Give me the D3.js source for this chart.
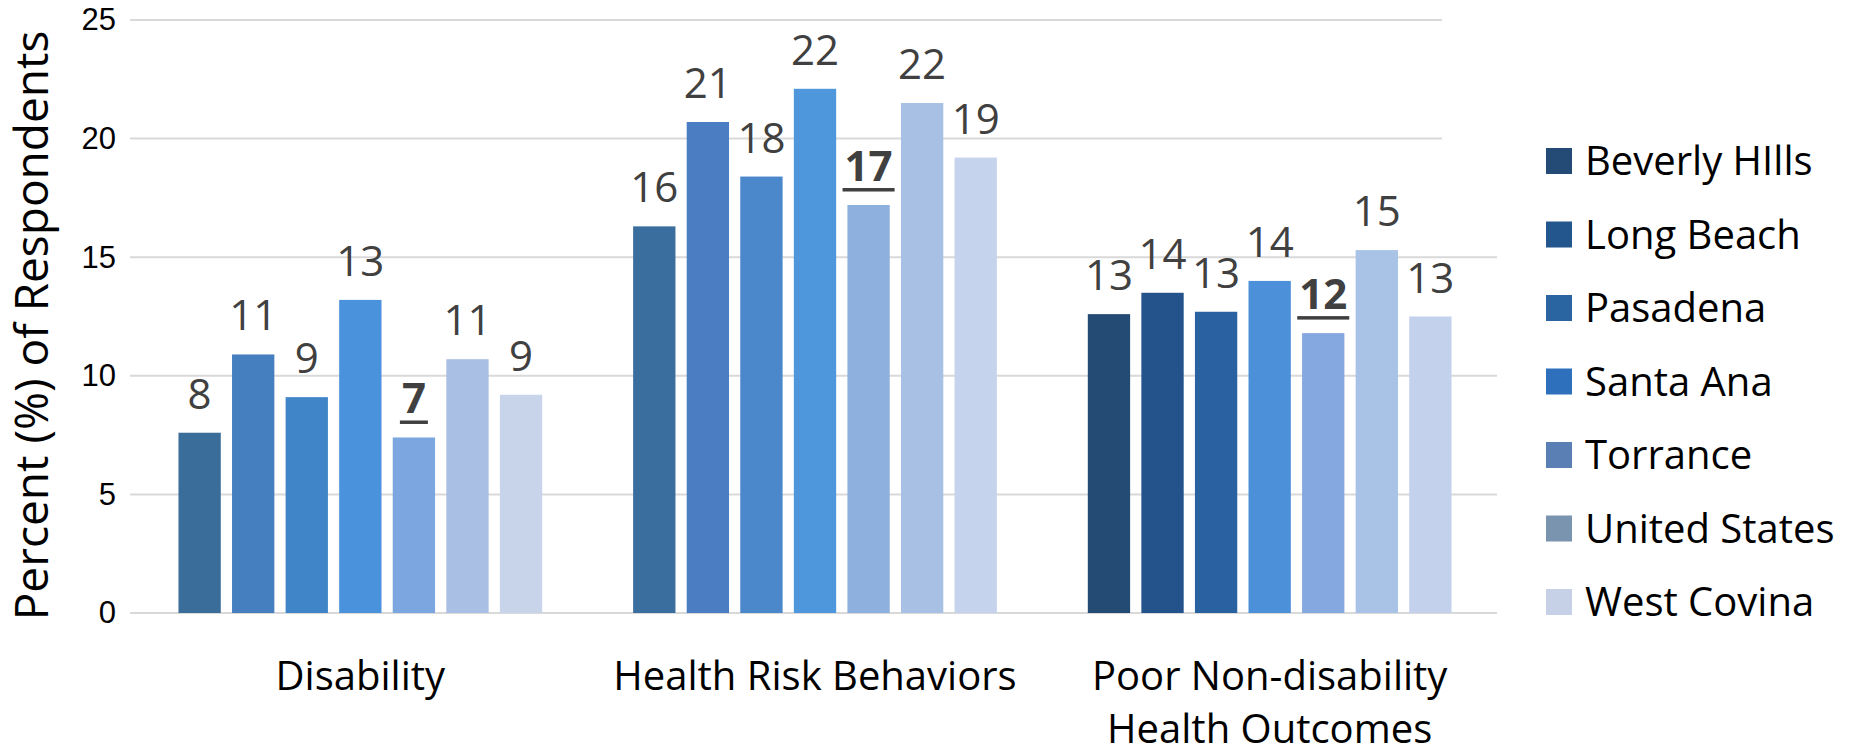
<!DOCTYPE html>
<html><head><meta charset="utf-8">
<script src="https://cdn.jsdelivr.net/npm/d3@7"></script>
<style>
body{margin:0;background:#fff;}
svg{display:block;font-family:"Open Sans",sans-serif;}
</style>
</head><body>
<svg id="chart" width="1860" height="754"></svg>
<script>
// ---- data ----
const categories = ["Disability", "Health Risk Behaviors", "Poor Non-disability Health Outcomes"];
const categoryLines = [["Disability"], ["Health Risk Behaviors"], ["Poor Non-disability", "Health Outcomes"]];
const series = ["Beverly HIlls", "Long Beach", "Pasadena", "Santa Ana", "Torrance", "United States", "West Covina"];
const beverlyHills = [7.6, 16.3, 12.6];
const longBeach    = [10.9, 20.7, 13.5];
const pasadena     = [9.1, 18.4, 12.7];
const santaAna     = [13.2, 22.1, 14.0];
const torrance     = [7.4, 17.2, 11.8];
const unitedStates = [10.7, 21.5, 15.3];
const westCovina   = [9.2, 19.2, 12.5];
const beverlyHillsLabels = ["8", "16", "13"];
const longBeachLabels    = ["11", "21", "14"];
const pasadenaLabels     = ["9", "18", "13"];
const santaAnaLabels     = ["13", "22", "14"];
const torranceLabels     = ["7", "17", "12"];
const unitedStatesLabels = ["11", "22", "15"];
const westCovinaLabels   = ["9", "19", "13"];
const yTicks = [0, 5, 10, 15, 20, 25];
const highlightSeries = "Torrance";

// ---- styles ----
const legendColors = ["#234b75", "#23568d", "#2a64a1", "#2f70bd", "#5a7fb4", "#7a93ae", "#c6d1e8"];
const groupColors = [
  ["#3b6d9b", "#467fc0", "#3f85c8", "#4a93dc", "#7ca6e0", "#a9bfe3", "#c8d4ea"],
  ["#3a6e9e", "#4a7dc2", "#4a88cb", "#4f97dc", "#8db0df", "#a8c0e4", "#c6d3ec"],
  ["#244b74", "#24538b", "#2a61a0", "#4b90d8", "#86a8e0", "#a8c3e6", "#c4d1ec"]
];

const values = [beverlyHills, longBeach, pasadena, santaAna, torrance, unitedStates, westCovina];
const labelTexts = [beverlyHillsLabels, longBeachLabels, pasadenaLabels, santaAnaLabels, torranceLabels, unitedStatesLabels, westCovinaLabels];

const svg = d3.select("#chart");
const plot = {left: 133, right: 1497, top: 20, bottom: 613};

const y = d3.scaleLinear().domain([0, 25]).range([plot.bottom, plot.top]);
const x0 = d3.scaleBand().domain(categories).range([plot.left, plot.right]).paddingInner(0.2).paddingOuter(0.1);
const x1 = d3.scaleBand().domain(series).range([0, x0.bandwidth()]).paddingInner(0.21);

// gridlines
svg.append("g").selectAll("line").data(yTicks).join("line")
  .attr("x1", plot.left - 3)
  .attr("x2", d => d >= 20 ? 1442 : plot.right)
  .attr("y1", d => y(d)).attr("y2", d => y(d))
  .attr("stroke", "#d9d9d9").attr("stroke-width", 2);

// y axis labels
const yAxis = d3.axisLeft(y).tickValues(yTicks).tickSize(0).tickPadding(17);
const ga = svg.append("g").attr("transform", `translate(${plot.left},0)`).call(yAxis);
ga.select(".domain").remove();
ga.selectAll("text").attr("font-size", 31).attr("fill", "#000").attr("font-family", '"Liberation Sans",sans-serif');

// y title
svg.append("text")
  .attr("transform", `translate(48,${(26 + 625) / 2}) rotate(-90)`)
  .attr("text-anchor", "middle")
  .attr("font-size", 46)
  .attr("fill", "#000")
  .text("Percent (%) of Respondents");

// bars
const flat = [];
categories.forEach((c, ci) => series.forEach((s, si) => flat.push({c, ci, s, si, v: values[si][ci], t: labelTexts[si][ci]})));

svg.append("g").selectAll("rect").data(flat).join("rect")
  .attr("x", d => x0(d.c) + x1(d.s))
  .attr("y", d => y(d.v))
  .attr("width", x1.bandwidth())
  .attr("height", d => y(0) - y(d.v))
  .attr("fill", d => groupColors[d.ci][d.si]);

// data labels
const lg = svg.append("g");
flat.forEach(d => {
  const cx = x0(d.c) + x1(d.s) + x1.bandwidth() / 2;
  const by = y(d.v) - 24;
  const bold = d.s === highlightSeries;
  const t = lg.append("text")
    .attr("x", cx).attr("y", by)
    .attr("text-anchor", "middle")
    .attr("font-size", 42)
    .attr("font-weight", bold ? 700 : 400)
    .attr("fill", "#404040")
    .text(d.t);
  if (bold) {
    const w = t.node().getComputedTextLength();
    lg.append("rect")
      .attr("x", cx - w / 2 - 2).attr("y", by + 7)
      .attr("width", w + 4).attr("height", 3.5)
      .attr("fill", "#404040");
  }
});

// category labels
categoryLines.forEach((lines, ci) => {
  const cx = x0(categories[ci]) + x0.bandwidth() / 2;
  lines.forEach((ln, li) => {
    svg.append("text")
      .attr("x", cx).attr("y", 690 + li * 53)
      .attr("text-anchor", "middle")
      .attr("font-size", 40)
      .attr("fill", "#000")
      .text(ln);
  });
});

// legend
const leg = svg.append("g").attr("transform", "translate(1546,0)");
series.forEach((s, i) => {
  const cy = 161 + i * 73.5;
  leg.append("rect").attr("x", 0).attr("y", cy - 13).attr("width", 26).attr("height", 26).attr("fill", legendColors[i]);
  leg.append("text").attr("x", 39).attr("y", cy).attr("dy", "0.36em")
    .attr("font-size", 40).attr("fill", "#000").text(s);
});
</script>
</body></html>
